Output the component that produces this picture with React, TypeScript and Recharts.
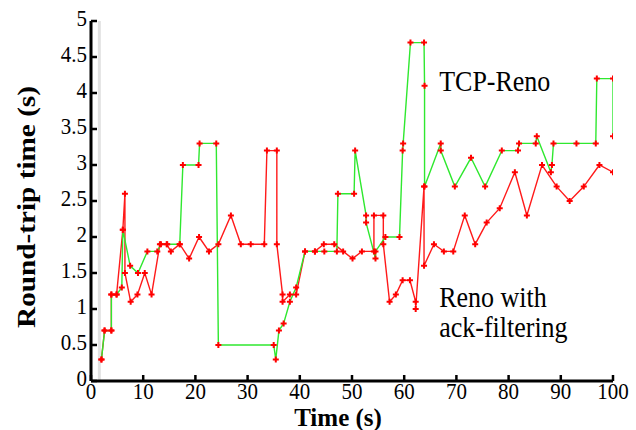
import { Line, LineChart, ReferenceDot, ReferenceLine, XAxis, YAxis } from "recharts";

// [time (s), round-trip time (s)]
const renoPoints: [number, number][] = [
  [2.0, 0.3], [2.6, 0.7], [3.9, 0.7], [3.9, 1.2], [4.9, 1.2], [5.9, 1.3], [6.1, 2.1], [7.5, 1.6], [9.0, 1.5],
  [10.8, 1.8], [12.7, 1.8], [13.4, 1.9], [14.6, 1.9], [17.0, 1.9], [17.6, 3.0], [20.6, 3.0], [20.8, 3.3],
  [24.0, 3.3], [24.4, 0.5], [35.0, 0.5], [35.4, 0.3], [36.0, 0.7], [36.9, 0.8], [38.1, 1.1], [39.3, 1.3],
  [41.0, 1.8], [42.9, 1.8], [44.7, 1.8], [47.1, 1.8], [47.3, 2.6], [50.4, 2.6], [50.6, 3.2], [52.7, 2.3],
  [52.7, 2.2], [54.5, 1.7], [54.5, 1.8], [56.4, 2.0], [59.1, 2.0], [59.7, 3.2], [59.8, 3.3], [61.2, 4.7],
  [63.8, 4.7], [63.9, 4.1], [63.9, 2.7], [67.0, 3.3], [67.0, 3.2], [69.7, 2.7], [72.8, 3.1], [75.5, 2.7],
  [78.7, 3.2], [81.8, 3.2], [82.0, 3.3], [85.2, 3.3], [85.4, 3.4], [88.1, 2.9], [88.3, 3.0], [88.6, 3.3],
  [93.0, 3.3], [96.7, 3.3], [96.9, 4.2], [100, 4.2], [100, 3.4],
];

const ackFilterPoints: [number, number][] = [
  [2.0, 0.3], [2.6, 0.7], [3.9, 0.7], [3.9, 1.2], [4.9, 1.2], [6.1, 2.1], [6.5, 2.6], [6.5, 1.5], [7.6, 1.1],
  [8.9, 1.2], [10.3, 1.5], [11.6, 1.2], [13.2, 1.9], [14.5, 1.9], [15.3, 1.8], [17.0, 1.9], [18.8, 1.7],
  [20.7, 2.0], [22.6, 1.8], [24.4, 1.9], [26.8, 2.3], [28.7, 1.9], [30.6, 1.9], [33.2, 1.9], [33.7, 3.2],
  [35.6, 3.2], [35.6, 1.9], [36.7, 1.2], [36.7, 1.1], [38.1, 1.2], [39.3, 1.2], [41.0, 1.8], [42.9, 1.8],
  [44.6, 1.9], [46.6, 1.9], [48.3, 1.8], [50.1, 1.7], [51.9, 1.8], [54.2, 1.8], [54.2, 2.3], [56.0, 2.3],
  [56.0, 1.9], [57.2, 1.1], [58.4, 1.2], [59.7, 1.4], [61.1, 1.4], [62.2, 1.1], [62.2, 1.0], [63.8, 2.7],
  [63.8, 1.6], [65.7, 1.9], [67.6, 1.8], [69.4, 1.8], [71.6, 2.3], [73.6, 1.9], [75.8, 2.2], [78.3, 2.4],
  [81.2, 2.9], [83.5, 2.3], [86.4, 3.0], [89.2, 2.7], [91.7, 2.5], [94.4, 2.7], [97.4, 3.0], [100, 2.9],
];

const xTicks = [0, 10, 20, 30, 40, 50, 60, 70, 80, 90, 100];
const yTicks = [0, 0.5, 1, 1.5, 2, 2.5, 3, 3.5, 4, 4.5, 5];

const renoData = renoPoints.map(([x, y]) => ({ x, y }));
const ackData = ackFilterPoints.map(([x, y]) => ({ x, y }));

const FONT = "Liberation Serif, Times New Roman, serif";

// the original figure is slightly stretched vertically, so texts get a small scale
function Txt({ x, y, anchor, size, bold, vertical, stretch = 1.12, children }: any) {
  const t = vertical
    ? `translate(${x},${y}) rotate(-90) scale(${stretch},1)`
    : `translate(${x},${y}) scale(1,${stretch})`;
  return (
    <text transform={t} textAnchor={anchor} fontFamily={FONT} fontSize={size} fontWeight={bold ? "bold" : undefined} fill="#000">
      {children}
    </text>
  );
}

const BottomTick = ({ x, y, payload }: any) => (
  <g>
    <line x1={x} x2={x} y1={y} y2={y - 6} stroke="#000" strokeWidth={2.5} />
    <Txt x={x} y={y + 18} anchor="middle" size={21}>{payload.value}</Txt>
  </g>
);
const TopTick = ({ x, y }: any) => <line x1={x} x2={x} y1={y} y2={y + 6} stroke="#000" strokeWidth={2.5} />;
const LeftTick = ({ x, y, payload }: any) => (
  <g>
    <line x1={x} x2={x + 6} y1={y} y2={y} stroke="#000" strokeWidth={2.5} />
    <Txt x={x - 4} y={y + 5} anchor="end" size={21}>{payload.value}</Txt>
  </g>
);
const RightTick = ({ x, y }: any) => <line x1={x} x2={x - 6} y1={y} y2={y} stroke="#000" strokeWidth={2.5} />;

const PlusDot = (p: any) => {
  const { cx, cy, index } = p;
  if (cx == null || cy == null) return <g key={index} />;
  return (
    <path key={index} d={`M${cx - 3},${cy}H${cx + 3}M${cx},${cy - 3}V${cy + 3}`} stroke="#ff0000" strokeWidth={2} />
  );
};

const axisLine = { stroke: "#000", strokeWidth: 3 };

export default function App() {
  return (
    <div style={{ position: "absolute", left: 0, top: 0 }}>
      <LineChart width={636} height={430} margin={{ top: 21, right: 23, left: 0, bottom: 0 }}>
        <XAxis xAxisId="b" dataKey="x" type="number" domain={[0, 100]} ticks={xTicks} interval={0} allowDataOverflow
          height={49} tickSize={0} tickMargin={0} axisLine={axisLine} tick={<BottomTick />}
          label={{ content: (p: any) => <Txt x={p.viewBox.x + p.viewBox.width / 2 - 14} y={p.viewBox.y + 45} anchor="middle" size={25} stretch={1} bold>Time (s)</Txt> }} />
        <XAxis xAxisId="t" orientation="top" dataKey="x" type="number" domain={[0, 100]} ticks={xTicks} interval={0} allowDataOverflow
          height={0} tickSize={0} tickMargin={0} axisLine={axisLine} tick={<TopTick />} />
        <YAxis yAxisId="l" type="number" domain={[0, 5]} ticks={yTicks} interval={0} width={91} tickSize={0} tickMargin={0}
          axisLine={axisLine} tick={<LeftTick />}
          label={{ content: (p: any) => <Txt x={p.viewBox.x + 35} y={p.viewBox.y + p.viewBox.height / 2 + 6} anchor="middle" size={25} stretch={1.17} bold vertical>Round-trip time (s)</Txt> }} />
        <YAxis yAxisId="r" orientation="right" type="number" domain={[0, 5]} ticks={yTicks} interval={0} width={0} tickSize={0} tickMargin={0}
          axisLine={axisLine} tick={<RightTick />} />
        <ReferenceLine xAxisId="b" yAxisId="l" x={1.6} stroke="#e2e2e2" strokeWidth={3} />
        <Line xAxisId="b" yAxisId="l" data={ackData} dataKey="y" stroke="#ff1a1a" strokeWidth={1.4} dot={PlusDot} isAnimationActive={false} />
        <Line xAxisId="b" yAxisId="l" data={renoData} dataKey="y" stroke="#2fe82f" strokeWidth={1.4} dot={PlusDot} isAnimationActive={false} />
        <ReferenceDot xAxisId="b" yAxisId="l" x={66.7} y={4.03} r={0} ifOverflow="visible"
          shape={(p: any) => <Txt x={p.cx} y={p.cy} anchor="start" size={26}>TCP-Reno</Txt>} />
        <ReferenceDot xAxisId="b" yAxisId="l" x={66.7} y={1.03} r={0} ifOverflow="visible"
          shape={(p: any) => <Txt x={p.cx} y={p.cy} anchor="start" size={26}>Reno with</Txt>} />
        <ReferenceDot xAxisId="b" yAxisId="l" x={66.7} y={0.615} r={0} ifOverflow="visible"
          shape={(p: any) => <Txt x={p.cx} y={p.cy} anchor="start" size={26}>ack-filtering</Txt>} />
      </LineChart>
    </div>
  );
}
